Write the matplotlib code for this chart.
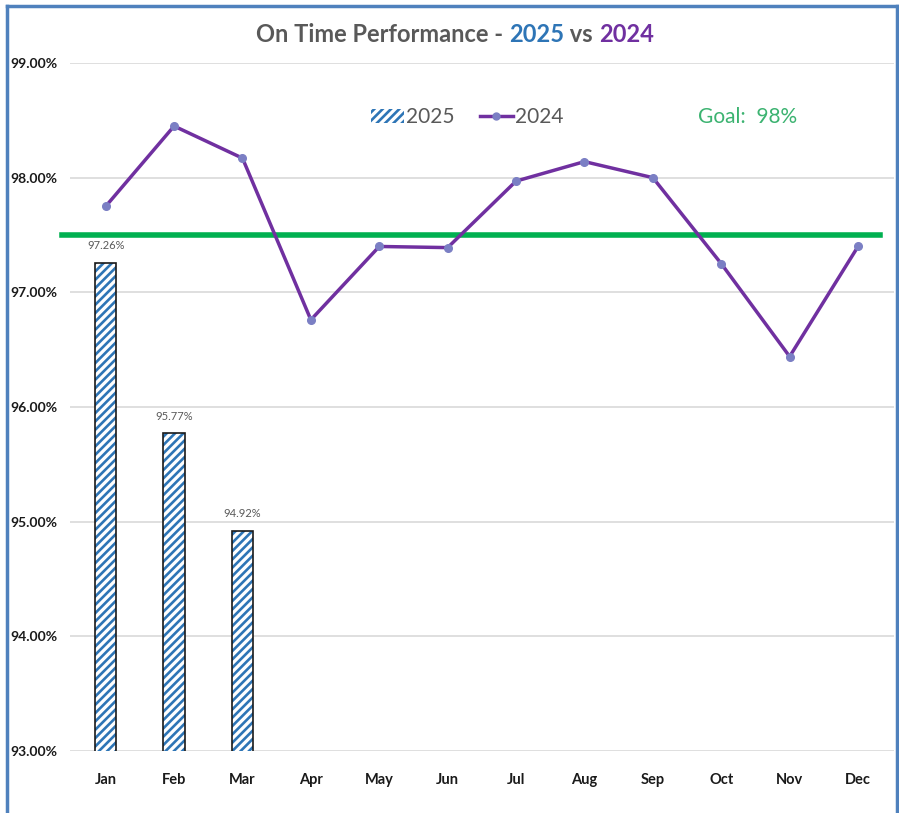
import matplotlib
matplotlib.use("Agg")
import matplotlib.pyplot as plt
import numpy as np
from matplotlib.patches import Rectangle
from matplotlib.lines import Line2D

plt.rcParams["font.family"] = ["Lato", "DejaVu Sans"]
plt.rcParams["hatch.linewidth"] = 1.9

months = ["Jan", "Feb", "Mar", "Apr", "May", "Jun", "Jul", "Aug", "Sep", "Oct", "Nov", "Dec"]
otp_2025 = [97.26, 95.77, 94.92]
otp_2024 = [97.75, 98.45, 98.17, 96.76, 97.40, 97.39, 97.97, 98.14, 98.00, 97.25, 96.44, 97.40]
goal = 97.5
yticks = [93, 94, 95, 96, 97, 98, 99]

BLUE = "#2e75b6"
PURPLE = "#7030a0"
GREEN = "#00b050"
GRAY = "#595959"

fig = plt.figure(figsize=(8.99, 8.13), dpi=100)
ax = fig.add_axes([0.078, 0.0763, 0.916, 0.8462])

x = np.arange(len(months))
x25 = np.arange(len(otp_2025))

# hatched bars, outline drawn separately
ax.bar(x25, otp_2025, 0.31, bottom=0, color="white", edgecolor=BLUE, hatch="////", linewidth=0, zorder=2)
ax.bar(x25, otp_2025, 0.31, bottom=0, color="none", edgecolor="#1a1a1a", linewidth=1.2, zorder=3)
for xi, v in zip(x25, otp_2025):
    ax.text(xi, v + 0.1, f"{v:.2f}%", ha="center", va="bottom", fontsize=8, color=GRAY, zorder=4)

ax.plot(x, otp_2024, color=PURPLE, lw=2.5, marker="o", ms=5.5, mfc="#7b7fc4", mec="#7b7fc4", zorder=5)

ax.axhline(goal, xmin=-0.01, xmax=0.983, color=GREEN, lw=4, clip_on=False, zorder=4)

ax.set_xlim(-0.52, 11.52)
ax.set_ylim(93, 99)
ax.set_yticks(yticks)
ax.set_yticklabels([f"{t:.2f}%" for t in yticks], fontweight="bold", fontsize=10, color="#1a1a1a")
ax.set_xticks(x)
ax.set_xticklabels(months, fontweight="bold", fontsize=10.5, color="#1a1a1a")
ax.tick_params(length=0)
ax.tick_params(axis="y", pad=9)
ax.tick_params(axis="x", pad=16)
for s in ax.spines.values():
    s.set_visible(False)
ax.yaxis.grid(True, color="#d9d9d9", lw=1.2)
ax.set_axisbelow(True)

# legend
h25 = Rectangle((0, 0), 1, 1, facecolor="white", edgecolor=BLUE, hatch="////", lw=0)
h24 = Line2D([], [], color=PURPLE, lw=2.5, marker="o", ms=5, mfc="#7b7fc4", mec="#7b7fc4")
ax.legend([h25, h24], ["2025", "2024"], ncol=2, frameon=False, loc="center",
          bbox_to_anchor=(0.482, 0.921), fontsize=15, handlelength=1.6, handletextpad=0.1,
          columnspacing=1.2, labelcolor=GRAY)

fig.text(0.831, 0.856, "Goal:  98%", color="#3cb371", fontsize=15, ha="center", va="center")

# multi-coloured title
parts = [("On Time Performance - ", GRAY), ("2025", BLUE), (" vs ", GRAY), ("2024", PURPLE)]
fig.canvas.draw()
r = fig.canvas.get_renderer()
texts = []
for s, c in parts:
    texts.append(fig.text(0, 0.957, s, color=c, fontsize=17, fontweight="bold", va="center"))
widths = [t.get_window_extent(r).width for t in texts]
total = sum(widths)
x0 = 455 - total / 2
for t, w in zip(texts, widths):
    t.set_x(x0 / fig.bbox.width)
    x0 += w

# blue frame (no bottom edge)
fig.add_artist(Line2D([7 / 899, 7 / 899], [0, 1 - 6 / 813], color="#4f81bd", lw=2.5, transform=fig.transFigure))
fig.add_artist(Line2D([7 / 899, 897 / 899], [1 - 6 / 813, 1 - 6 / 813], color="#4f81bd", lw=2.5, transform=fig.transFigure))
fig.add_artist(Line2D([897 / 899, 897 / 899], [0, 1 - 6 / 813], color="#4f81bd", lw=2.5, transform=fig.transFigure))

fig.savefig("out.png", dpi=100)
